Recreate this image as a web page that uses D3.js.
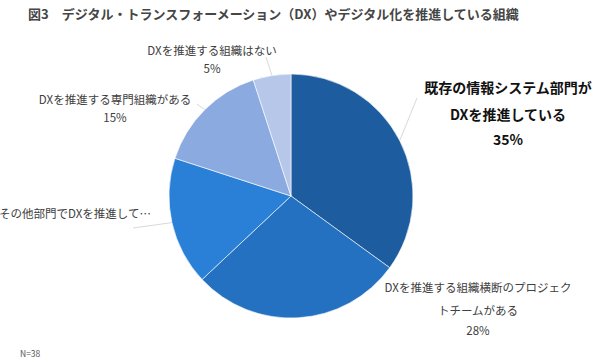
<!DOCTYPE html>
<html>
<head>
<meta charset="utf-8">
<script src="https://cdn.jsdelivr.net/npm/d3@7"></script>
<style>
  body { margin: 0; background: #fff; }
  svg { display: block; font-family: "Noto Sans CJK JP", "Noto Sans", sans-serif; }
</style>
</head>
<body>
<svg width="600" height="362"></svg>
<script>
const title = '図3　デジタル・トランスフォーメーション（DX）やデジタル化を推進している組織'
const categories = [
  ['既存の情報システム部門が', 'DXを推進している'],
  ['DXを推進する組織横断のプロジェク', 'トチームがある'],
  ['その他部門でDXを推進して…'],
  ['DXを推進する専門組織がある'],
  ['DXを推進する組織はない']
]
const values = [35, 28, 17, 15, 5]
const colors = ['#1d5c9e', '#2371c0', '#2a80d6', '#8aaae0', '#b6c7ea']
const note = 'N=38'

// label layout: centre x, first line y, line gap, leader end, bold, show percent
const layout = [
  {x: 508, y: 87, gap: 27, end: [417, 98], bold: true, pct: true},
  {x: 478, y: 287, gap: 23, end: null, bold: false, pct: true},
  {x: 75, y: 213, gap: 0, end: [133, 228], bold: false, pct: false},
  {x: 115, y: 99, gap: 18, end: [197, 104], bold: false, pct: true},
  {x: 212, y: 50, gap: 18, end: [266, 57], bold: false, pct: true}
]

const svg = d3.select('svg')
const cx = 291, cy = 196, r = 122

svg.append('text')
  .attr('x', 28).attr('y', 13)
  .attr('dominant-baseline', 'central')
  .attr('font-size', 13).attr('font-weight', 'bold')
  .attr('fill', '#454545')
  .text(title)

const pie = d3.pie().sort(null).value(d => d)
const arcs = pie(values)
const arc = d3.arc().innerRadius(0).outerRadius(r)

const $pie = svg.append('g').attr('transform', `translate(${cx},${cy})`)

$pie.selectAll('path').data(arcs)
  .enter().append('path')
  .attr('d', arc)
  .attr('fill', (d, i) => colors[i])
  .attr('stroke', '#fff')
  .attr('stroke-width', 0.6)

/* leader lines */
$pie.selectAll('line').data(arcs.filter((d, i) => layout[i].end))
  .enter().append('line')
  .each(function(d){
    const a = (d.startAngle + d.endAngle) / 2
    const end = layout[d.index].end
    d3.select(this)
      .attr('x1', Math.sin(a) * r).attr('y1', -Math.cos(a) * r)
      .attr('x2', end[0] - cx).attr('y2', end[1] - cy)
  })
  .attr('stroke', '#d9d9d9')
  .attr('stroke-width', 1)

/* labels */
svg.append('g').selectAll('g').data(arcs)
  .enter().append('g')
  .each(function(d, i){
    const g = d3.select(this)
    const l = layout[i]
    const lines = categories[i].concat(l.pct ? [values[i] + '%'] : [])
    const gaps = [0, l.gap, l.gap]
    let y = l.y
    lines.forEach((t, k) => {
      if (l.bold && k == 2) y += 25
      else if (k > 0) y += (k == lines.length - 1 && !l.bold && lines.length == 3) ? 20 : l.gap
      g.append('text')
        .attr('x', l.x).attr('y', y)
        .attr('text-anchor', 'middle')
        .attr('dominant-baseline', 'central')
        .attr('font-size', l.bold ? 14 : 11.5)
        .attr('font-weight', l.bold ? 'bold' : 'normal')
        .attr('fill', l.bold ? '#111' : '#404040')
        .text(t)
    })
  })

svg.append('text')
  .attr('x', 20).attr('y', 353)
  .attr('dominant-baseline', 'central')
  .attr('font-size', 8.5)
  .attr('fill', '#555')
  .text(note)
</script>
</body>
</html>
